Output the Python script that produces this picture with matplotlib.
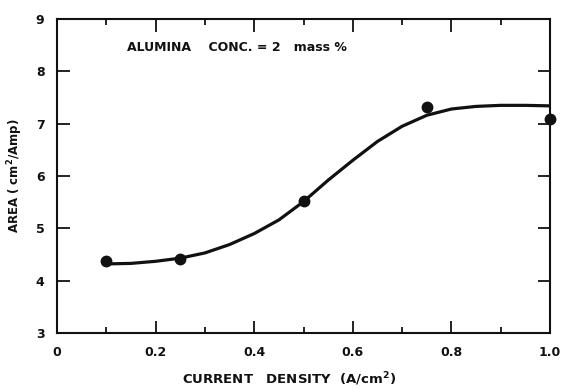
import matplotlib
matplotlib.use("Agg")
import matplotlib.pyplot as plt
from matplotlib.ticker import MultipleLocator

# measured data points
point_x = [0.1, 0.25, 0.5, 0.75, 1.0]
point_y = [4.38, 4.42, 5.52, 7.31, 7.08]

# fitted curve
curve_x = [0.1, 0.15, 0.2, 0.25, 0.3, 0.35, 0.4, 0.45, 0.5, 0.55, 0.6, 0.65,
           0.7, 0.75, 0.8, 0.85, 0.9, 0.95, 1.0]
curve_y = [4.32, 4.33, 4.37, 4.43, 4.53, 4.69, 4.90, 5.16, 5.51, 5.92, 6.30,
           6.66, 6.95, 7.16, 7.28, 7.33, 7.35, 7.35, 7.34]

x_ticks = [0, 0.2, 0.4, 0.6, 0.8, 1.0]
x_ticklabels = ["0", "0.2", "0.4", "0.6", "0.8", "1.0"]
y_ticks = [3, 4, 5, 6, 7, 8, 9]

plt.rcParams['font.family'] = ['DejaVu Sans']
fig = plt.figure(figsize=(5.61, 3.9), dpi=100)
ax = fig.add_axes([57/561, 57/390, 493/561, 314/390])

ax.plot(curve_x, curve_y, color='#111111', lw=2.3, solid_capstyle='round')
ax.plot(point_x, point_y, 'o', color='#111111', ms=7.5, clip_on=False, zorder=5)

ax.set_xlim(0, 1.0)
ax.set_ylim(3, 9)
ax.set_xticks(x_ticks)
ax.set_xticklabels(x_ticklabels)
ax.xaxis.set_minor_locator(MultipleLocator(0.1))
ax.set_yticks(y_ticks)

for s in ax.spines.values():
    s.set_linewidth(1.5)
    s.set_color('#111111')

ax.tick_params(which='major', direction='in', length=9, width=1.3,
               top=True, right=True, labelsize=9, pad=9, colors='#111111')
ax.tick_params(which='minor', direction='in', length=4, width=1.2,
               top=True, right=True)
for lab in ax.get_xticklabels() + ax.get_yticklabels():
    lab.set_fontweight('bold')

ax.text(0.142, 8.45, "ALUMINA    CONC. = 2   mass %", fontsize=9,
        fontweight='bold', va='center', ha='left', color='#111111')

ax.set_xlabel("CURRENT   DENSITY  (A/cm$^\\mathbf{2}$)", fontsize=9.5,
              fontweight='bold', color='#111111')
ax.xaxis.set_label_coords(0.47, -0.12)
ax.set_ylabel("AREA ( cm$^\\mathbf{2}$/Amp)", fontsize=8.5,
              fontweight='bold', labelpad=8, color='#111111')

fig.savefig("out.png", dpi=100)
